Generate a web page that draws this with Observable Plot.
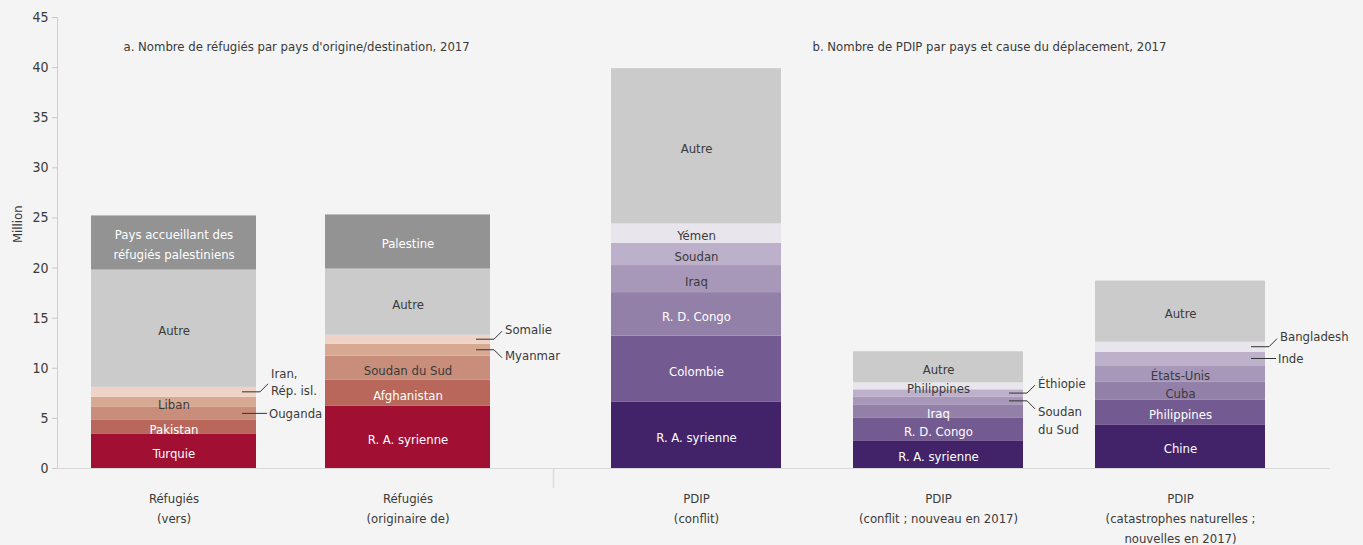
<!DOCTYPE html>
<html><head><meta charset="utf-8">
<script src="https://cdn.jsdelivr.net/npm/d3@7"></script>
<script src="https://cdn.jsdelivr.net/npm/@observablehq/plot@0.6"></script>
<style>
html,body{margin:0;padding:0;background:#f4f4f4;}
#chart{display:flex;width:1363px;height:545px;overflow:hidden;}
#chart svg{display:block;flex:none;overflow:visible;}
</style></head><body><div id="chart"></div>
<script>
const FONT = '"DejaVu Sans Condensed", "Liberation Sans Narrow", Roboto, sans-serif';
const FS = 13;
const DARK = "#3a3a3a";

const categories = [
  "Réfugiés\n(vers)",
  "Réfugiés\n(originaire de)",
  "PDIP\n(conflit)",
  "PDIP\n(conflit ; nouveau en 2017)",
  "PDIP\n(catastrophes naturelles ;\nnouvelles en 2017)"
];
const panelTitles = [
  "a. Nombre de réfugiés par pays d'origine/destination, 2017",
  "b. Nombre de PDIP par pays et cause du déplacement, 2017"
];
const yTicks = [0, 5, 10, 15, 20, 25, 30, 35, 40, 45];
const yLabel = "Million";

// each bar, bottom to top (million)
const refugVersNames = ["Turquie", "Pakistan", "Ouganda", "Liban", "Iran, Rép. isl.", "Autre", "Pays accueillant des\nréfugiés palestiniens"];
const refugVersValues = [3.4, 1.4, 1.3, 1.0, 1.0, 11.7, 5.4];

const refugOrigNames = ["R. A. syrienne", "Afghanistan", "Soudan du Sud", "Myanmar", "Somalie", "Autre", "Palestine"];
const refugOrigValues = [6.2, 2.6, 2.4, 1.2, 0.9, 6.6, 5.4];

const pdipConflitNames = ["R. A. syrienne", "Colombie", "R. D. Congo", "Iraq", "Soudan", "Yémen", "Autre"];
const pdipConflitValues = [6.6, 6.6, 4.35, 2.7, 2.2, 1.95, 15.5];

const pdipNouvNames = ["R. A. syrienne", "R. D. Congo", "Iraq", "Soudan du Sud", "Éthiopie", "Philippines", "Autre"];
const pdipNouvValues = [2.7, 2.3, 1.3, 0.8, 0.75, 0.7, 3.1];

const pdipCatNames = ["Chine", "Philippines", "Cuba", "États-Unis", "Inde", "Bangladesh", "Autre"];
const pdipCatValues = [4.3, 2.5, 1.8, 1.65, 1.35, 1.0, 6.1];

const redShades = ["#a10f32", "#b8675a", "#c98e7b", "#d7a992", "#eed3c6"];
const purpleShades = ["#42236a", "#735b91", "#9380a9", "#a797b8", "#bcb0cb", "#e9e5ed"];
const otherGray = "#cbcbcb";
const palestineGray = "#939393";
const darkLabelOnMid = ["Cuba"];

// labels drawn outside the bars with a leader line
const callouts = [
  {ci: 0, name: "Iran, Rép. isl.", label: "Iran,\nRép. isl.", dir: "up"},
  {ci: 0, name: "Ouganda", label: "Ouganda", dir: "flat"},
  {ci: 1, name: "Somalie", label: "Somalie", dir: "up"},
  {ci: 1, name: "Myanmar", label: "Myanmar", dir: "down"},
  {ci: 3, name: "Éthiopie", label: "Éthiopie", dir: "up"},
  {ci: 3, name: "Soudan du Sud", label: "Soudan\ndu Sud", dir: "down"},
  {ci: 4, name: "Bangladesh", label: "Bangladesh", dir: "up"},
  {ci: 4, name: "Inde", label: "Inde", dir: "flat"}
];

function rowsFor(ci, names, values, kind) {
  let cum = 0;
  return names.map((name, i) => {
    const y1 = cum; cum += values[i];
    let fill, tfill;
    if (kind === "ref") {
      fill = i < 5 ? redShades[i] : (i === 5 ? otherGray : palestineGray);
      tfill = (i <= 1 || i === 6) ? "#ffffff" : DARK;
    } else {
      fill = i < 6 ? purpleShades[i] : otherGray;
      tfill = (i <= 2 && !darkLabelOnMid.includes(name)) ? "#ffffff" : DARK;
    }
    const isCallout = callouts.some(c => c.ci === ci && c.name === name);
    return {ci, cat: categories[ci], name, value: values[i], y1, y2: cum, fill, tfill, text: isCallout ? "" : name};
  });
}

const rowsA = [
  ...rowsFor(0, refugVersNames, refugVersValues, "ref"),
  ...rowsFor(1, refugOrigNames, refugOrigValues, "ref")
];
const rowsB = [
  ...rowsFor(2, pdipConflitNames, pdipConflitValues, "pdip"),
  ...rowsFor(3, pdipNouvNames, pdipNouvValues, "pdip"),
  ...rowsFor(4, pdipCatNames, pdipCatValues, "pdip")
];

function bw(sx) { return typeof sx.bandwidth === "function" ? sx.bandwidth() : sx.bandwidth; }

function calloutMark(rows) {
  return (index, scales, values, dims) => {
    const sx = scales.x, sy = scales.y;
    const g = d3.create("svg:g").attr("font-family", FONT).attr("font-size", FS).attr("text-anchor", "start");
    for (const c of callouts) {
      const r = rows.find(d => d.ci === c.ci && d.name === c.name);
      if (!r) continue;
      const xe = sx(r.cat) + bw(sx);
      const ym = sy((r.y1 + r.y2) / 2);
      const lines = c.label.split("\n");
      const path = d3.path();
      let tx, ty0;
      const lh = 17.5;
      if (c.dir === "flat") {
        path.moveTo(xe - 14, ym); path.lineTo(xe + 11, ym);
        tx = xe + 13; ty0 = ym - (lines.length - 1) * lh / 2;
      } else {
        const s = c.dir === "up" ? -1 : 1;
        const ye = ym + s * 8;
        path.moveTo(xe - 14, ym); path.lineTo(xe + 4, ym); path.lineTo(xe + 12, ye);
        tx = xe + 15;
        if (c.dir === "up") ty0 = ye - 2 - (lines.length - 1) * lh / 2;
        else ty0 = ye + (lines.length > 1 ? 3 : -2);
      }
      g.append("path").attr("d", path.toString()).attr("fill", "none").attr("stroke", "#333").attr("stroke-width", 1);
      const t = g.append("text").attr("fill", DARK);
      lines.forEach((l, i) => t.append("tspan").attr("x", tx).attr("y", ty0 + i * lh).attr("dy", "0.35em").text(l));
    }
    return g.node();
  };
}

const common = {
  height: 545, marginTop: 17, marginBottom: 77,
  style: {fontFamily: FONT, fontSize: FS + "px", background: "transparent", color: DARK, overflow: "visible"},
  color: {type: "identity"}
};

const plotA = Plot.plot({
  ...common,
  width: 553, marginLeft: 57, marginRight: 0,
  x: {domain: categories.slice(0, 2), paddingInner: 0.295, paddingOuter: 0.207, align: 0.35, label: null},
  y: {domain: [0, 45], label: null},
  marks: [
    Plot.ruleY([0], {stroke: "#d9d9d9"}),
    (index, scales, values, dims) => {
      const x = dims.marginLeft + 0.5;
      return d3.create("svg:line").attr("x1", x).attr("x2", x)
        .attr("y1", scales.y(45)).attr("y2", scales.y(0)).attr("stroke", "#cfcfcf").node();
    },
    Plot.axisY({ticks: yTicks, tickSize: 5, tickPadding: 4, stroke: "#c8c8c8", fill: DARK, fontSize: 14, label: null}),
    Plot.axisX({tickSize: 0, tickPadding: 20, lineHeight: 1.54, fontSize: FS, fill: DARK, label: null}),
    Plot.barY(rowsA, {x: "cat", y: "value", fill: "fill"}),
    Plot.text(rowsA, Plot.stackY({x: "cat", y: "value", text: "text", fill: "tfill", fontSize: FS, lineHeight: 1.54})),
    Plot.text([panelTitles[0]], {frameAnchor: "top-left", dx: 66, dy: 24, text: d => d, textAnchor: "start", fill: DARK, fontSize: FS}),
    Plot.text([yLabel], {frameAnchor: "left", dx: -40, rotate: -90, text: d => d, fill: DARK, fontSize: FS}),
    calloutMark(rowsA)
  ]
});

const plotB = Plot.plot({
  ...common,
  width: 810, marginLeft: 0, marginRight: 33,
  x: {domain: categories.slice(2), paddingInner: 0.296, paddingOuter: 0.247, align: 0.475, label: null},
  y: {domain: [0, 45], label: null, axis: null},
  marks: [
    Plot.ruleY([0], {stroke: "#d9d9d9"}),
    (index, scales, values, dims) => {
      const x = dims.marginLeft + 0.5;
      return d3.create("svg:line").attr("x1", x).attr("x2", x)
        .attr("y1", scales.y(0)).attr("y2", scales.y(0) + 20).attr("stroke", "#dcdcdc").attr("stroke-width", 1.5).node();
    },
    Plot.axisX({tickSize: 0, tickPadding: 20, lineHeight: 1.54, fontSize: FS, fill: DARK, label: null}),
    Plot.barY(rowsB, {x: "cat", y: "value", fill: "fill"}),
    Plot.text(rowsB, Plot.stackY({x: "cat", y: "value", text: "text", fill: "tfill", fontSize: FS, lineHeight: 1.54})),
    Plot.text([panelTitles[1]], {frameAnchor: "top-left", dx: 259, dy: 24, text: d => d, textAnchor: "start", fill: DARK, fontSize: FS}),
    calloutMark(rowsB)
  ]
});

// panel a is placed above panel b so its callout labels near the divider stay visible
plotA.style.position = "relative";
plotA.style.zIndex = "1";
document.getElementById("chart").append(plotA, plotB);
</script></body></html>
